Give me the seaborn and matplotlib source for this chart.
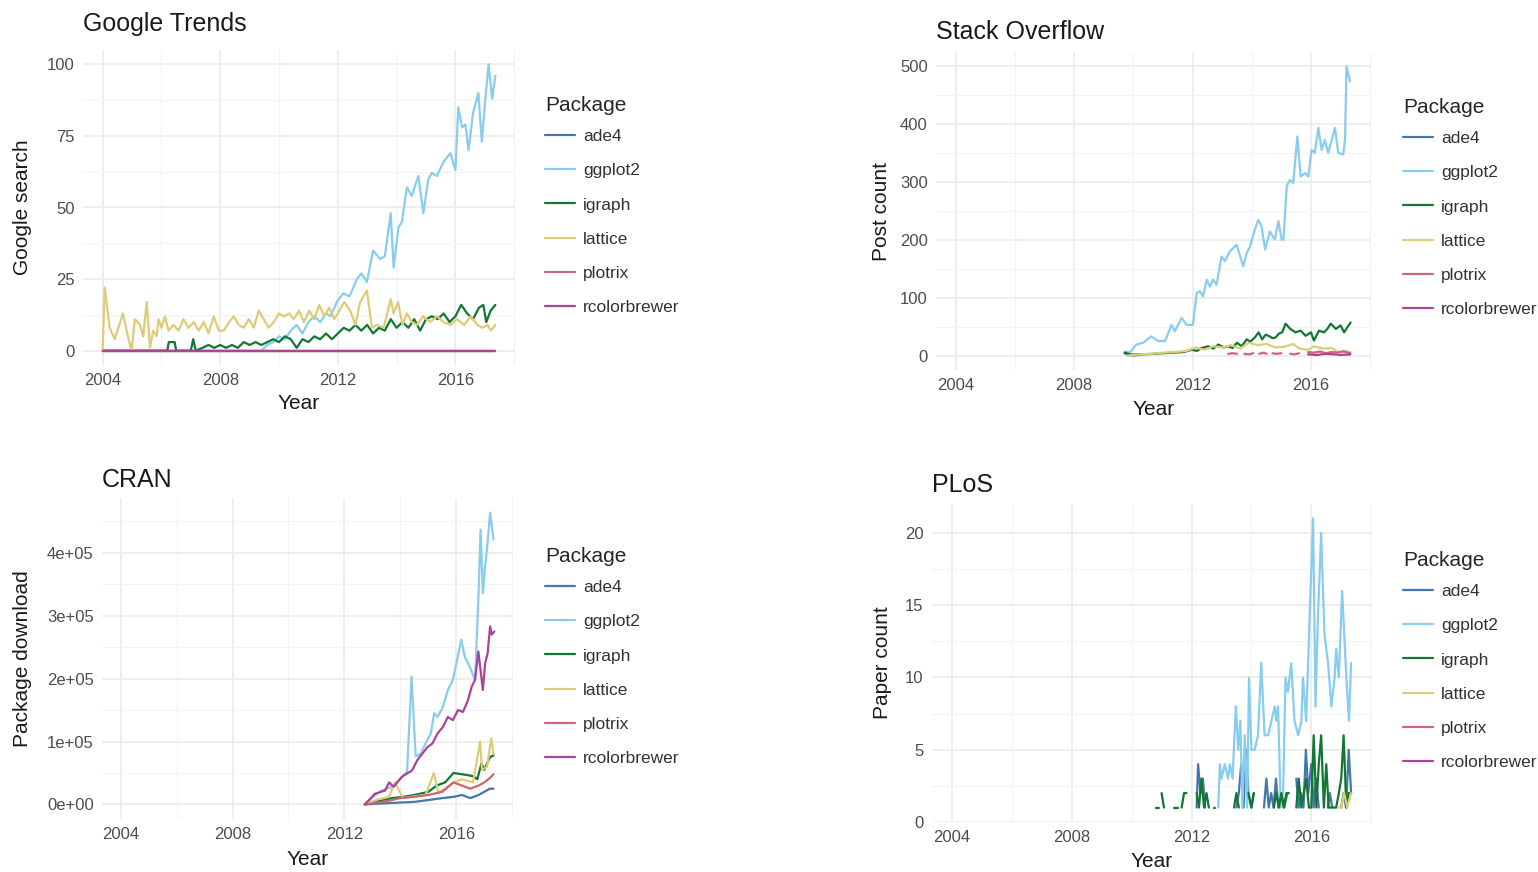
import numpy as np
import pandas as pd
import seaborn as sns
import matplotlib.pyplot as plt
from matplotlib.lines import Line2D

W, H = 1538, 872

packages = ["ade4", "ggplot2", "igraph", "lattice", "plotrix", "rcolorbrewer"]
palette = {"ade4": "#4477AA", "ggplot2": "#88CCEE", "igraph": "#117733",
           "lattice": "#DDCC77", "plotrix": "#CC6677", "rcolorbrewer": "#AA4499"}

year_ticks = [2004, 2008, 2012, 2016]

# ---------------- Google Trends ----------------
gt_ade4_year = [2004.0, 2017.36]
gt_ade4 = [0, 0]
gt_ggplot2_year = [2004.0, 2009.4, 2009.6, 2009.8, 2010.0, 2010.2, 2010.4, 2010.6, 2010.8, 2011.0,
                   2011.2, 2011.4, 2011.6, 2011.75, 2011.97, 2012.18, 2012.4, 2012.65, 2012.8, 2012.99,
                   2013.2, 2013.44, 2013.6, 2013.8, 2013.9, 2014.06, 2014.18, 2014.35, 2014.52, 2014.64,
                   2014.74, 2014.91, 2015.08, 2015.2, 2015.37, 2015.6, 2015.83, 2016.0, 2016.1, 2016.23,
                   2016.34, 2016.45, 2016.6, 2016.78, 2016.9, 2017.02, 2017.13, 2017.25, 2017.36]
gt_ggplot2 = [0, 0, 2, 3, 5, 4, 7, 9, 6, 10,
              12, 10, 13, 12, 17, 20, 19, 25, 27, 24,
              35, 32, 33, 48, 29, 43, 45, 57, 54, 58,
              61, 48, 60, 62, 61, 66, 69, 63, 85, 78,
              79, 70, 83, 90, 73, 88, 100, 88, 96]
gt_igraph_year = [2004.0, 2006.2, 2006.25, 2006.45, 2006.5, 2007.0, 2007.08, 2007.17, 2007.4, 2007.6,
                  2007.8, 2008.0, 2008.2, 2008.4, 2008.6, 2008.8, 2009.0, 2009.2, 2009.4, 2009.6,
                  2009.8, 2010.0, 2010.2, 2010.4, 2010.6, 2010.8, 2011.0, 2011.2, 2011.4, 2011.6,
                  2011.8, 2012.0, 2012.2, 2012.4, 2012.6, 2012.8, 2013.0, 2013.2, 2013.4, 2013.6,
                  2013.8, 2014.0, 2014.2, 2014.4, 2014.6, 2014.8, 2015.0, 2015.2, 2015.4, 2015.6,
                  2015.8, 2016.0, 2016.2, 2016.4, 2016.6, 2016.8, 2016.95, 2017.05, 2017.2, 2017.36]
gt_igraph = [0, 0, 3, 3, 0, 0, 4, 0, 1, 2,
             1, 2, 1, 2, 1, 3, 2, 3, 2, 3,
             4, 3, 5, 4, 1, 4, 3, 5, 4, 6,
             4, 6, 8, 7, 9, 7, 9, 6, 8, 7,
             11, 8, 10, 8, 11, 7, 11, 12, 11, 13,
             10, 12, 16, 13, 11, 15, 16, 10, 14, 16]
gt_lattice_year = [2004.0, 2004.07, 2004.24, 2004.41, 2004.69, 2004.86, 2004.98, 2005.1, 2005.27, 2005.38,
                   2005.5, 2005.61, 2005.72, 2005.84, 2005.9, 2006.0, 2006.12, 2006.24, 2006.41, 2006.58,
                   2006.75, 2006.92, 2007.1, 2007.27, 2007.44, 2007.6, 2007.78, 2007.95, 2008.12, 2008.3,
                   2008.46, 2008.63, 2008.8, 2008.97, 2009.14, 2009.31, 2009.48, 2009.65, 2009.82, 2010.0,
                   2010.17, 2010.34, 2010.5, 2010.68, 2010.85, 2011.03, 2011.2, 2011.37, 2011.54, 2011.71,
                   2011.88, 2012.05, 2012.22, 2012.42, 2012.6, 2012.76, 2012.99, 2013.16, 2013.33, 2013.56,
                   2013.8, 2013.9, 2014.05, 2014.2, 2014.35, 2014.52, 2014.7, 2014.9, 2015.14, 2015.37,
                   2015.6, 2015.83, 2016.05, 2016.3, 2016.52, 2016.75, 2016.92, 2017.1, 2017.2, 2017.36]
gt_lattice = [0, 22, 8, 4, 13, 5, 0, 11, 9, 5,
              17, 1, 7, 5, 11, 8, 12, 7, 9, 7,
              11, 8, 10, 7, 10, 6, 12, 7, 7, 10,
              12, 9, 8, 11, 8, 14, 11, 8, 10, 13,
              12, 13, 11, 14, 10, 14, 11, 16, 12, 15,
              11, 14, 17, 14, 9, 17, 21, 8, 9, 8,
              18, 13, 17, 9, 13, 10, 9, 12, 10, 12,
              10, 9, 11, 9, 12, 9, 8, 9, 7, 9]
gt_plotrix_year = [2004.0, 2017.36]
gt_plotrix = [0, 0]
gt_rcolorbrewer_year = [2004.0, 2017.36]
gt_rcolorbrewer = [0, 0]

# ---------------- Stack Overflow ----------------
so_ade4_year = [2009.7, 2009.85, 2010.0, 2010.2]
so_ade4 = [4, 1, 0, 1]
so_ggplot2_year = [2009.71, 2009.88, 2010.1, 2010.33, 2010.6, 2010.84, 2011.07, 2011.29, 2011.4, 2011.63,
                   2011.8, 2012.01, 2012.14, 2012.25, 2012.35, 2012.48, 2012.59, 2012.69, 2012.81, 2012.98,
                   2013.09, 2013.26, 2013.49, 2013.71, 2013.83, 2013.94, 2014.1, 2014.22, 2014.33, 2014.45,
                   2014.61, 2014.78, 2014.9, 2015.01, 2015.07, 2015.18, 2015.29, 2015.4, 2015.54, 2015.65,
                   2015.8, 2015.91, 2016.02, 2016.13, 2016.25, 2016.36, 2016.47, 2016.58, 2016.7, 2016.81,
                   2016.92, 2017.09, 2017.15, 2017.2, 2017.32]
so_ggplot2 = [7, 5, 19, 22, 33, 25, 25, 53, 42, 65,
              53, 53, 108, 111, 102, 131, 119, 131, 122, 171,
              163, 180, 191, 154, 177, 188, 217, 234, 223, 183,
              214, 200, 232, 200, 200, 292, 303, 298, 378, 309,
              315, 309, 355, 350, 393, 355, 372, 350, 372, 393,
              350, 347, 372, 499, 473]
so_igraph_year = [2009.71, 2009.9, 2010.3, 2010.7, 2011.0, 2011.4, 2011.7, 2011.97, 2012.15, 2012.3,
                  2012.53, 2012.7, 2012.87, 2013.05, 2013.2, 2013.35, 2013.5, 2013.66, 2013.83, 2013.95,
                  2014.1, 2014.23, 2014.35, 2014.47, 2014.57, 2014.7, 2014.8, 2014.92, 2015.03, 2015.14,
                  2015.3, 2015.48, 2015.65, 2015.82, 2016.0, 2016.1, 2016.27, 2016.44, 2016.55, 2016.67,
                  2016.84, 2017.0, 2017.12, 2017.23, 2017.34]
so_igraph = [5, 2, 2, 3, 4, 5, 6, 10, 8, 13,
             16, 12, 19, 14, 16, 13, 22, 16, 28, 24,
             31, 40, 28, 36, 34, 30, 31, 38, 40, 55,
             46, 40, 43, 34, 40, 26, 43, 40, 46, 55,
             46, 52, 40, 49, 57]
so_lattice_year = [2009.8, 2010.2, 2010.6, 2011.0, 2011.4, 2011.8, 2012.1, 2012.4, 2012.7, 2013.0,
                   2013.3, 2013.6, 2013.9, 2014.2, 2014.5, 2014.8, 2015.1, 2015.4, 2015.6, 2015.9,
                   2016.1, 2016.4, 2016.7, 2016.9, 2017.1, 2017.33]
so_lattice = [0, 2, 3, 5, 6, 8, 14, 10, 16, 14,
              18, 12, 22, 18, 20, 14, 15, 20, 12, 10,
              16, 12, 13, 6, 8, 6]
# None = month with no posts (line is broken there)
so_plotrix_year = [2013.2, 2013.35, 2013.5, 2013.6, 2013.75, 2013.9, 2014.05, 2014.15, 2014.25, 2014.4,
                   2014.5, 2014.6, 2014.7, 2014.85, 2015.0, 2015.15, 2015.3, 2015.45, 2015.6, 2015.75,
                   2015.9, 2016.1, 2016.3, 2016.5, 2016.7, 2016.9, 2017.1, 2017.33]
so_plotrix = [3, 4, 3, None, 3, 2, 4, None, 3, 5,
              3, None, 4, 3, 4, None, 3, 2, 4, None,
              6, 5, 7, 4, 6, 5, 7, 4]
so_rcolorbrewer_year = [2015.9, 2016.2, 2016.5, 2016.8, 2017.0, 2017.33]
so_rcolorbrewer = [2, 1, 3, 2, 1, 2]

# ---------------- CRAN ----------------
cran_ade4_year = [2012.73, 2014.0, 2014.5, 2015.0, 2015.5, 2015.9, 2016.2, 2016.5, 2016.8, 2017.0,
                  2017.2, 2017.33]
cran_ade4 = [0, 3000, 4000, 7000, 10000, 12000, 15000, 10000, 15000, 20000, 25000, 25000]
cran_ggplot2_year = [2012.73, 2013.03, 2013.33, 2013.7, 2014.06, 2014.24, 2014.4, 2014.55, 2014.73, 2014.9,
                     2015.09, 2015.21, 2015.33, 2015.52, 2015.7, 2015.88, 2016.0, 2016.18, 2016.3, 2016.48,
                     2016.67, 2016.79, 2016.87, 2016.95, 2017.03, 2017.12, 2017.21, 2017.33]
cran_ggplot2 = [0, 12000, 22000, 28000, 44000, 52000, 203000, 76000, 81000, 97000,
                113000, 145000, 139000, 155000, 182000, 198000, 224000, 262000, 235000, 219000,
                198000, 326000, 437000, 336000, 379000, 416000, 464000, 421000]
cran_igraph_year = [2012.73, 2013.2, 2013.7, 2014.1, 2014.5, 2015.0, 2015.3, 2015.6, 2015.9, 2016.2,
                    2016.6, 2016.75, 2016.9, 2017.0, 2017.2, 2017.33]
cran_igraph = [0, 5000, 10000, 12000, 15000, 20000, 30000, 35000, 50000, 48000,
               45000, 40000, 65000, 55000, 75000, 78000]
cran_lattice_year = [2012.73, 2013.2, 2013.6, 2013.8, 2014.1, 2014.5, 2014.9, 2015.2, 2015.35, 2015.6,
                     2015.9, 2016.2, 2016.6, 2016.85, 2016.92, 2017.1, 2017.25, 2017.33]
cran_lattice = [0, 8000, 12000, 35000, 10000, 13000, 15000, 50000, 20000, 25000,
                35000, 40000, 35000, 100000, 55000, 60000, 105000, 80000]
cran_plotrix_year = [2012.73, 2013.5, 2014.0, 2014.5, 2015.0, 2015.5, 2015.9, 2016.2, 2016.5, 2016.8,
                     2017.0, 2017.2, 2017.33]
cran_plotrix = [0, 5000, 10000, 12000, 15000, 20000, 35000, 30000, 25000, 30000,
                35000, 42000, 48000]
cran_rcolorbrewer_year = [2012.73, 2013.09, 2013.45, 2013.6, 2013.76, 2014.06, 2014.24, 2014.42, 2014.6, 2014.79,
                          2014.97, 2015.15, 2015.33, 2015.52, 2015.7, 2015.88, 2016.06, 2016.24, 2016.42, 2016.55,
                          2016.67, 2016.79, 2016.95, 2017.03, 2017.12, 2017.21, 2017.27, 2017.36]
cran_rcolorbrewer = [0, 17000, 22000, 35000, 28000, 44000, 49000, 54000, 70000, 81000,
                     91000, 97000, 113000, 123000, 139000, 134000, 150000, 147000, 166000, 187000,
                     198000, 243000, 182000, 224000, 240000, 283000, 270000, 275000]

# ---------------- PLoS ----------------
plos_ade4_year = [2012.17, 2012.22, 2012.3, 2012.38, 2012.45, 2012.6, 2013.5, 2013.58, 2013.66, 2013.74,
                  2013.82, 2013.9, 2014.0, 2014.08, 2014.2, 2014.42, 2014.5, 2014.58, 2014.66, 2014.74,
                  2014.82, 2014.9, 2015.0, 2015.1, 2015.2, 2015.3, 2015.5, 2015.58, 2015.66, 2015.74,
                  2015.82, 2015.9, 2016.0, 2016.08, 2016.16, 2016.25, 2016.4, 2016.55, 2016.62, 2016.7,
                  2016.85, 2017.0, 2017.08, 2017.16, 2017.25, 2017.33]
plos_ade4 = [1, 4, 2, 3, 1, None, 1, 2, 4, 1,
             5, 2, 1, 2, None, 1, 3, 1, 2, 1,
             3, 1, 2, 1, 2, None, 3, 1, 2, 1,
             5, 2, 4, 1, 3, 1, None, 1, 2, 1,
             None, 1, 2, 1, 5, 2]
plos_ggplot2_year = [2012.89, 2012.95, 2013.0, 2013.11, 2013.22, 2013.28, 2013.37, 2013.48, 2013.56, 2013.63,
                     2013.7, 2013.78, 2013.86, 2013.92, 2014.0, 2014.11, 2014.22, 2014.33, 2014.44, 2014.56,
                     2014.67, 2014.78, 2014.83, 2014.89, 2014.98, 2015.06, 2015.14, 2015.22, 2015.33, 2015.44,
                     2015.56, 2015.67, 2015.72, 2015.83, 2015.94, 2016.06, 2016.14, 2016.22, 2016.33, 2016.44,
                     2016.56, 2016.67, 2016.78, 2016.83, 2016.92, 2017.03, 2017.17, 2017.26, 2017.33]
plos_ggplot2 = [1, 4, 3, 4, 3, 4, 3, 8, 5, 7,
                1, 6, 1, 10, 5, 5, 6, 11, 6, 6,
                7, 8, 7, 8, 1, 2, 10, 9, 11, 7,
                6, 7, 10, 7, 14, 21, 8, 14, 20, 13,
                11, 8, 10, 12, 10, 16, 10, 7, 11]
plos_igraph_year = [2010.83, 2010.92, 2010.96, 2011.0, 2011.08, 2011.2, 2011.42, 2011.55, 2011.6, 2011.67,
                    2011.75, 2011.83, 2012.0, 2012.17, 2012.25, 2012.33, 2012.42, 2012.5, 2012.58, 2012.65,
                    2012.75, 2012.8, 2013.0, 2013.42, 2013.5, 2013.58, 2013.7, 2013.9, 2014.0, 2014.08,
                    2014.4, 2014.75, 2014.83, 2014.92, 2015.0, 2015.08, 2015.17, 2015.25, 2015.4, 2015.5,
                    2015.58, 2015.67, 2015.75, 2015.83, 2015.92, 2016.0, 2016.08, 2016.17, 2016.25, 2016.33,
                    2016.42, 2016.5, 2016.58, 2016.67, 2016.75, 2016.83, 2016.92, 2017.0, 2017.08, 2017.17,
                    2017.25, 2017.33]
plos_igraph = [1, 1, None, 2, 1, None, 1, 1, None, 1,
               2, 2, None, 2, 1, 3, 1, 2, 1, None,
               1, 1, None, 1, 2, 1, None, 2, 1, 2,
               None, 1, 2, 1, 2, 1, 2, 2, None, 1,
               3, 1, 2, 3, 1, 1, 6, 1, 4, 6,
               1, 4, 1, 1, 1, 1, 2, 3, 6, 1,
               2, 2]
plos_lattice_year = [2016.9, 2017.0, 2017.1, 2017.2, 2017.33]
plos_lattice = [1, 1, 2, 1, 2]


def to_frame(series):
    rows = []
    for pkg, (years, vals) in series.items():
        if len(years) != len(vals):
            raise ValueError(f"{pkg}: {len(years)} years vs {len(vals)} values")
        seg = 0
        for yr, v in zip(years, vals):
            if v is None:
                seg += 1
                continue
            rows.append((pkg, f"{pkg}-{seg}", yr, v))
    return pd.DataFrame(rows, columns=["Package", "seg", "Year", "Value"])


panels = [
    dict(title="Google Trends", ylabel="Google search",
         rect=(83, 50, 515, 365), title_base=31, ylab_x=32, xlab_top=394, legend=(545, 96),
         yticks=[0, 25, 50, 75, 100], ylabels=["0", "25", "50", "75", "100"],
         data=to_frame({"ade4": (gt_ade4_year, gt_ade4), "ggplot2": (gt_ggplot2_year, gt_ggplot2),
                        "igraph": (gt_igraph_year, gt_igraph), "lattice": (gt_lattice_year, gt_lattice),
                        "plotrix": (gt_plotrix_year, gt_plotrix),
                        "rcolorbrewer": (gt_rcolorbrewer_year, gt_rcolorbrewer)})),
    dict(title="Stack Overflow", ylabel="Post count",
         rect=(936, 52, 1371, 370), title_base=39, ylab_x=891, xlab_top=400, legend=(1403, 98),
         yticks=[0, 100, 200, 300, 400, 500], ylabels=["0", "100", "200", "300", "400", "500"],
         data=to_frame({"ade4": (so_ade4_year, so_ade4), "ggplot2": (so_ggplot2_year, so_ggplot2),
                        "igraph": (so_igraph_year, so_igraph), "lattice": (so_lattice_year, so_lattice),
                        "plotrix": (so_plotrix_year, so_plotrix),
                        "rcolorbrewer": (so_rcolorbrewer_year, so_rcolorbrewer)})),
    dict(title="CRAN", ylabel="Package download",
         rect=(102, 498, 513, 819), title_base=487, ylab_x=32, xlab_top=850, legend=(545, 547),
         yticks=[0, 100000, 200000, 300000, 400000],
         ylabels=["0e+00", "1e+05", "2e+05", "3e+05", "4e+05"],
         data=to_frame({"ade4": (cran_ade4_year, cran_ade4), "ggplot2": (cran_ggplot2_year, cran_ggplot2),
                        "igraph": (cran_igraph_year, cran_igraph),
                        "lattice": (cran_lattice_year, cran_lattice),
                        "plotrix": (cran_plotrix_year, cran_plotrix),
                        "rcolorbrewer": (cran_rcolorbrewer_year, cran_rcolorbrewer)})),
    dict(title="PLoS", ylabel="Paper count",
         rect=(932, 504, 1372, 822), title_base=492, ylab_x=892, xlab_top=852, legend=(1403, 551),
         yticks=[0, 5, 10, 15, 20], ylabels=["0", "5", "10", "15", "20"],
         data=to_frame({"ade4": (plos_ade4_year, plos_ade4), "ggplot2": (plos_ggplot2_year, plos_ggplot2),
                        "igraph": (plos_igraph_year, plos_igraph),
                        "lattice": (plos_lattice_year, plos_lattice)})),
]

sns.set_theme(style="white")
plt.rcParams["font.family"] = ["Liberation Sans", "DejaVu Sans"]

fig = plt.figure(figsize=(W / 100, H / 100), dpi=100)
fig.patch.set_facecolor("white")

# shared x range: 2004 to last month, with ggplot's 5% expansion
x_lo = 2004.0
x_hi = max(p["data"]["Year"].max() for p in panels)
x_pad = 0.05 * (x_hi - x_lo)
xlim = (x_lo - x_pad, x_hi + x_pad)


def minor_between(major, lim):
    step = major[1] - major[0]
    ext = [major[0] - step] + list(major) + [major[-1] + step]
    mids = [(a + b) / 2 for a, b in zip(ext[:-1], ext[1:])]
    return [m for m in mids if lim[0] <= m <= lim[1]]


for p in panels:
    l, t, r, b = p["rect"]
    ax = fig.add_axes([l / W, 1 - b / H, (r - l) / W, (b - t) / H])
    df = p["data"]
    sns.lineplot(data=df, x="Year", y="Value", hue="Package", hue_order=packages,
                 palette=palette, units="seg", estimator=None, linewidth=1.6,
                 legend=False, ax=ax)

    lo, hi = df["Value"].min(), df["Value"].max()
    pad = 0.05 * (hi - lo)
    ylim = (lo - pad, hi + pad)
    ax.set_xlim(*xlim)
    ax.set_ylim(*ylim)

    ax.set_xticks(year_ticks)
    ax.set_xticklabels([str(y) for y in year_ticks])
    ax.set_xticks(minor_between(year_ticks, xlim), minor=True)
    ax.set_yticks(p["yticks"])
    ax.set_yticklabels(p["ylabels"])
    ax.set_yticks(minor_between(p["yticks"], ylim), minor=True)

    ax.grid(True, which="major", color="#EBEBEB", linewidth=1.2)
    ax.grid(True, which="minor", color="#F3F3F3", linewidth=0.8)
    ax.set_axisbelow(True)
    for s in ax.spines.values():
        s.set_visible(False)
    ax.tick_params(which="both", length=0, labelsize=12, colors="#4D4D4D", pad=6)

    ax.set_xlabel("Year", fontsize=15, color="#1A1A1A")
    ax.set_ylabel(p["ylabel"], fontsize=15, color="#1A1A1A")
    ax.xaxis.set_label_coords(0.5, (b - p["xlab_top"]) / (b - t))
    ax.yaxis.set_label_coords((p["ylab_x"] - l) / (r - l), 0.5)

    fig.text(l / W, 1 - p["title_base"] / H, p["title"], fontsize=18,
             color="#1A1A1A", ha="left", va="baseline")

    handles = [Line2D([], [], color=palette[k], linewidth=1.6) for k in packages]
    lx, ly = p["legend"]
    leg = fig.legend(handles, packages, title="Package", loc="upper left",
                     bbox_to_anchor=(lx / W, 1 - ly / H), bbox_transform=fig.transFigure,
                     frameon=False, borderpad=0, borderaxespad=0, handlelength=1.7,
                     handletextpad=0.5, labelspacing=1.1, fontsize=12.5, title_fontsize=15,
                     alignment="left", labelcolor="#333333")
    # keep the gap under the title tighter than the gap between entries
    leg._legend_box.sep = 10

fig.savefig("out.png", dpi=100, facecolor="white")
